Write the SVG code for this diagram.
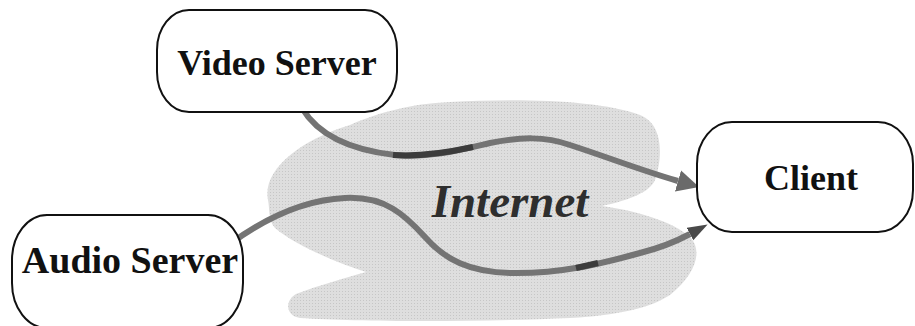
<svg xmlns="http://www.w3.org/2000/svg" width="915" height="326" viewBox="0 0 915 326">
  <style>
    .box { fill: #ffffff; stroke: #111111; stroke-width: 2; }
    .label { font-family: "Liberation Serif", "Times New Roman", serif; font-weight: bold; fill: #111111; text-anchor: middle; }
    .flow { fill: none; stroke: #747474; stroke-width: 6; stroke-linecap: butt; }
    .flow-dark { fill: none; stroke: #3c3c3c; stroke-width: 6; }
  </style>
  <defs>
    <!-- halftone-like light grey fill for the network cloud -->
    <pattern id="dots" width="3" height="3" patternUnits="userSpaceOnUse">
      <rect width="3" height="3" fill="#dedede"/>
      <rect width="1" height="1" fill="#c6c6c6"/>
    </pattern>
    <marker id="headWide" markerUnits="userSpaceOnUse" markerWidth="24" markerHeight="24" refX="0" refY="11" orient="auto" viewBox="0 0 24 22">
      <path d="M0,0 L22,11 L0,22 Z" fill="#6a6a6a"/>
    </marker>
    <marker id="headNarrow" markerUnits="userSpaceOnUse" markerWidth="22" markerHeight="16" refX="0" refY="7" orient="auto" viewBox="0 0 22 14">
      <path d="M0,0 L20,7 L0,14 Z" fill="#4a4a4a"/>
    </marker>
  </defs>

  <!-- the network cloud -->
  <g id="internet">
    <path fill="url(#dots)" d="M268,200 C262,170 300,140 350,125 C380,112 410,104 450,102 C520,98 600,100 640,115 C665,125 662,160 655,180 C650,192 630,200 602,206 C630,210 665,218 688,235 C705,250 695,275 670,295 C650,308 620,315 570,318 C480,322 360,322 300,318 C285,316 285,300 296,294 C320,285 345,278 366,272 C335,262 295,245 275,228 C268,220 270,210 268,200 Z"/>
    <text class="label" x="510" y="217" font-size="47" font-style="italic" fill="#2e2e2e" style="fill:#2e2e2e">Internet</text>
  </g>

  <!-- data flows -->
  <g id="connectors">
    <path class="flow" marker-end="url(#headWide)" d="M302,108 C318,135 350,150 395,155 C430,158 460,150 490,143 C520,137 545,136 570,145 C610,158 640,170 678,181"/>
    <path class="flow-dark" d="M393,155 C420,157 450,152 473,147"/>
    <path class="flow" marker-end="url(#headNarrow)" d="M230,244 C260,222 300,200 345,198 C385,196 405,215 425,237 C445,260 470,272 510,273 C560,274 600,264 640,253 C660,248 675,242 690,234"/>
    <path class="flow-dark" d="M576,268 L598,263"/>
  </g>

  <g id="video-server">
    <rect class="box" x="157" y="10" width="240" height="102" rx="32" ry="40"/>
    <text class="label" x="277" y="75" font-size="36">Video Server</text>
  </g>

  <g id="client">
    <rect class="box" x="697" y="122" width="216" height="110" rx="35" ry="42"/>
    <text class="label" x="811" y="190" font-size="36">Client</text>
  </g>

  <g id="audio-server">
    <rect class="box" x="12" y="215" width="231" height="113" rx="35" ry="45"/>
    <text class="label" x="130" y="273" font-size="38">Audio Server</text>
  </g>
</svg>
